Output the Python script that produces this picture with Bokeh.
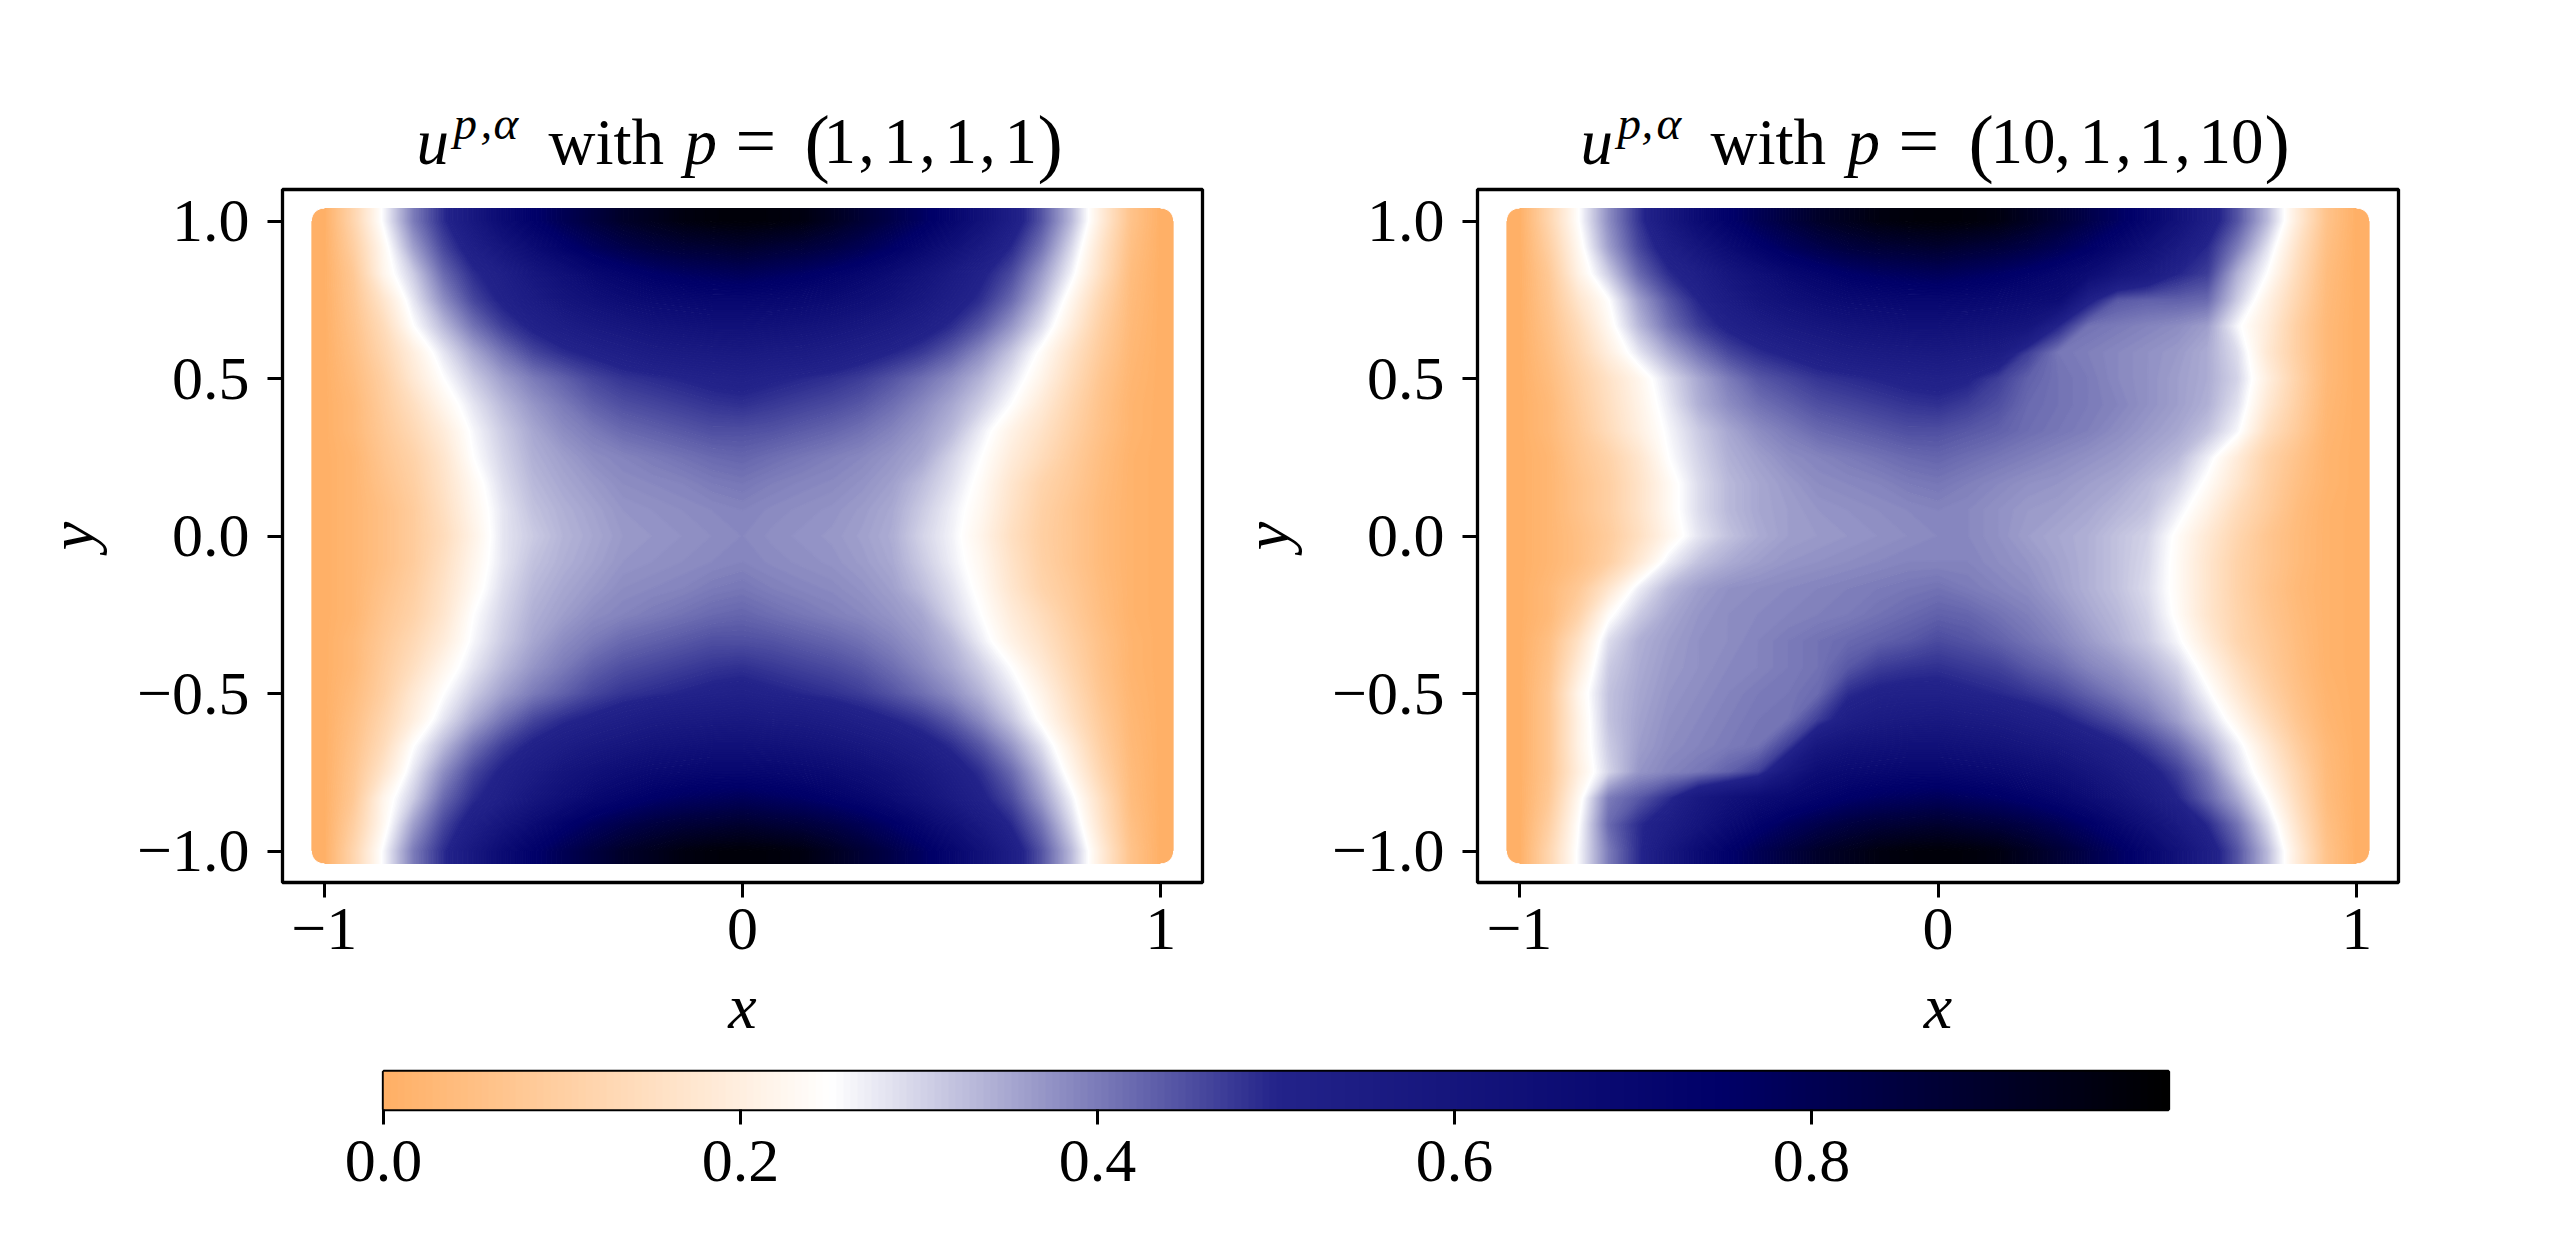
import numpy as np
from bokeh.embed import file_html
from bokeh.resources import INLINE
from bokeh.layouts import column, row
from bokeh.models import FixedTicker, Label, LinearColorMapper, Range1d
from bokeh.plotting import figure

x_ticks = [-1, 0, 1]
x_tick_labels = ["\u22121", "0", "1"]
y_ticks = [-1.0, -0.5, 0.0, 0.5, 1.0]
y_tick_labels = ["\u22121.0", "\u22120.5", "0.0", "0.5", "1.0"]
cbar_ticks = [0.0, 0.2, 0.4, 0.6, 0.8]
cbar_tick_labels = ["0.0", "0.2", "0.4", "0.6", "0.8"]
cmap_stops = [0.0, 0.25, 0.5, 0.75, 1.0]
cmap_colors = [(255, 176, 102), (255, 255, 255), (35, 35, 138), (0, 0, 104), (0, 0, 0)]

# values; rows from y=1 to y=-1, columns from x=-1 to x=1
u_left = [
[0,.12,.26,.40,.49,.58,.67,.74,.80,.85,.90,.93,.96,.975,.98,.975,.96,.92,.875,.825,.77,.705,.625,.535,.445,.33,.19,.06,0],
[0,.10,.23,.36,.46,.53,.60,.67,.73,.78,.82,.85,.87,.88,.89,.875,.86,.835,.80,.755,.70,.635,.565,.495,.41,.295,.165,.05,0],
[0,.08,.22,.31,.42,.49,.53,.59,.64,.69,.72,.75,.77,.78,.79,.775,.76,.735,.705,.665,.615,.56,.51,.455,.365,.265,.15,.04,0],
[0,.07,.17,.28,.38,.46,.51,.55,.60,.63,.66,.68,.69,.70,.70,.695,.685,.67,.645,.615,.575,.53,.485,.42,.33,.225,.12,.035,0],
[0,.06,.14,.25,.33,.41,.47,.51,.54,.57,.59,.61,.62,.63,.63,.625,.615,.60,.58,.555,.525,.49,.44,.37,.29,.195,.10,.03,0],
[0,.05,.12,.20,.28,.35,.41,.46,.49,.51,.53,.55,.56,.565,.57,.56,.555,.54,.52,.50,.475,.435,.38,.315,.24,.16,.085,.025,0],
[0,.04,.10,.18,.25,.31,.36,.40,.43,.46,.48,.49,.50,.51,.515,.505,.495,.485,.47,.445,.415,.38,.335,.28,.215,.14,.07,.02,0],
[0,.03,.09,.15,.22,.28,.33,.37,.40,.43,.45,.46,.47,.48,.485,.475,.465,.455,.44,.415,.385,.35,.305,.25,.185,.12,.06,.015,0],
[0,.03,.08,.13,.19,.26,.31,.35,.38,.40,.42,.43,.44,.45,.45,.445,.435,.425,.41,.39,.365,.33,.27,.21,.16,.105,.055,.015,0],
[0,.02,.07,.11,.17,.25,.30,.34,.36,.38,.39,.40,.41,.42,.425,.415,.405,.395,.385,.37,.35,.30,.25,.19,.14,.09,.045,.01,0],
[0,.02,.06,.10,.16,.23,.29,.33,.35,.365,.38,.385,.39,.40,.405,.395,.388,.383,.373,.358,.325,.285,.235,.17,.115,.08,.04,.01,0],
[0,.02,.05,.09,.15,.22,.28,.32,.34,.355,.37,.375,.38,.385,.39,.383,.378,.373,.363,.348,.31,.27,.225,.16,.105,.07,.035,.01,0],
[0,.02,.05,.09,.14,.21,.28,.31,.335,.35,.365,.37,.375,.38,.385,.378,.373,.368,.358,.343,.30,.265,.215,.15,.10,.07,.035,.01,0],
[0,.02,.05,.09,.15,.22,.28,.32,.34,.355,.37,.375,.38,.385,.39,.383,.378,.373,.363,.348,.31,.27,.225,.16,.105,.07,.035,.01,0],
[0,.02,.06,.10,.16,.23,.29,.33,.35,.365,.38,.385,.39,.40,.405,.395,.388,.383,.373,.358,.325,.285,.235,.17,.115,.08,.04,.01,0],
[0,.02,.07,.11,.17,.25,.30,.34,.36,.38,.39,.40,.41,.42,.425,.415,.405,.395,.385,.37,.35,.30,.25,.19,.14,.09,.045,.01,0],
[0,.03,.08,.13,.19,.26,.31,.35,.38,.40,.42,.43,.44,.45,.45,.445,.435,.425,.41,.39,.365,.33,.27,.21,.16,.105,.055,.015,0],
[0,.03,.09,.15,.22,.28,.33,.37,.40,.43,.45,.46,.47,.48,.485,.475,.465,.455,.44,.415,.385,.35,.305,.25,.185,.12,.06,.015,0],
[0,.04,.10,.18,.25,.31,.36,.40,.43,.46,.48,.49,.50,.51,.515,.505,.495,.485,.47,.445,.415,.38,.335,.28,.215,.14,.07,.02,0],
[0,.05,.12,.20,.28,.35,.41,.46,.49,.51,.53,.55,.56,.565,.57,.56,.555,.54,.52,.50,.475,.435,.38,.315,.24,.16,.085,.025,0],
[0,.06,.14,.25,.33,.41,.47,.51,.54,.57,.59,.61,.62,.63,.63,.625,.615,.60,.58,.555,.525,.49,.44,.37,.29,.195,.10,.03,0],
[0,.07,.17,.28,.38,.46,.51,.55,.60,.63,.66,.68,.69,.70,.70,.695,.685,.67,.645,.615,.575,.53,.485,.42,.33,.225,.12,.035,0],
[0,.08,.22,.31,.42,.49,.53,.59,.64,.69,.72,.75,.77,.78,.79,.775,.76,.735,.705,.665,.615,.56,.51,.455,.365,.265,.15,.04,0],
[0,.10,.23,.36,.46,.53,.60,.67,.73,.78,.82,.85,.87,.88,.89,.875,.86,.835,.80,.755,.70,.635,.565,.495,.41,.295,.165,.05,0],
[0,.12,.26,.40,.49,.58,.67,.74,.80,.85,.90,.93,.96,.975,.98,.975,.96,.92,.875,.825,.77,.705,.625,.535,.445,.33,.19,.06,0],
]
u_right = [
[0,.12,.25,.38,.48,.58,.67,.74,.80,.85,.90,.93,.96,.975,.98,.975,.96,.92,.875,.825,.77,.705,.625,.535,.445,.33,.19,.06,0],
[0,.10,.23,.36,.46,.53,.60,.67,.73,.78,.82,.85,.87,.88,.89,.875,.86,.835,.80,.755,.70,.635,.565,.495,.40,.285,.16,.05,0],
[0,.08,.21,.31,.42,.49,.53,.59,.64,.69,.72,.75,.77,.78,.79,.775,.76,.735,.705,.665,.60,.56,.50,.47,.34,.25,.14,.04,0],
[0,.07,.17,.25,.36,.44,.50,.55,.60,.63,.66,.68,.69,.70,.70,.695,.685,.67,.66,.52,.44,.43,.43,.42,.31,.21,.12,.035,0],
[0,.06,.14,.23,.33,.41,.47,.51,.54,.57,.59,.61,.62,.63,.63,.625,.615,.60,.50,.41,.40,.39,.38,.36,.26,.19,.10,.03,0],
[0,.05,.12,.20,.28,.35,.41,.46,.49,.51,.53,.55,.56,.565,.57,.56,.55,.47,.405,.395,.385,.375,.365,.345,.29,.18,.10,.03,0],
[0,.04,.10,.16,.22,.29,.35,.40,.44,.46,.48,.49,.50,.51,.515,.505,.47,.43,.41,.40,.385,.375,.36,.345,.30,.20,.11,.03,0],
[0,.03,.09,.15,.21,.275,.34,.38,.41,.43,.45,.46,.47,.48,.485,.47,.45,.42,.41,.40,.39,.375,.36,.34,.285,.18,.10,.025,0],
[0,.03,.08,.14,.20,.26,.31,.35,.38,.40,.42,.43,.44,.45,.45,.44,.43,.415,.405,.395,.38,.365,.35,.32,.26,.15,.085,.02,0],
[0,.02,.07,.11,.17,.25,.30,.34,.36,.38,.39,.40,.41,.42,.425,.415,.405,.395,.385,.375,.365,.35,.33,.27,.19,.11,.06,.015,0],
[0,.02,.06,.10,.16,.23,.29,.33,.35,.365,.38,.385,.39,.40,.405,.395,.385,.375,.37,.36,.35,.33,.30,.24,.17,.10,.05,.015,0],
[0,.02,.06,.10,.16,.23,.29,.33,.35,.36,.37,.375,.38,.385,.39,.385,.375,.365,.36,.35,.335,.32,.27,.21,.14,.09,.04,.01,0],
[0,.02,.05,.09,.15,.22,.28,.32,.345,.36,.365,.37,.375,.38,.385,.385,.375,.36,.35,.34,.32,.30,.24,.18,.12,.07,.035,.01,0],
[0,.02,.05,.10,.18,.27,.32,.345,.36,.37,.375,.38,.385,.39,.39,.39,.38,.37,.355,.34,.32,.295,.235,.17,.11,.07,.035,.01,0],
[0,.03,.08,.17,.27,.33,.36,.375,.38,.385,.39,.395,.40,.405,.41,.40,.39,.38,.36,.34,.32,.29,.235,.17,.11,.065,.03,.01,0],
[0,.03,.11,.24,.31,.35,.37,.38,.385,.39,.395,.40,.41,.42,.43,.425,.41,.395,.375,.35,.33,.30,.24,.17,.115,.07,.035,.01,0],
[0,.05,.16,.29,.34,.36,.375,.38,.39,.40,.41,.42,.43,.44,.455,.445,.43,.41,.39,.365,.34,.31,.26,.19,.12,.08,.04,.01,0],
[0,.06,.19,.31,.345,.365,.375,.385,.39,.40,.41,.44,.47,.48,.485,.475,.465,.44,.42,.39,.37,.34,.30,.225,.15,.09,.045,.01,0],
[0,.07,.22,.32,.35,.37,.38,.39,.40,.405,.42,.49,.51,.515,.515,.505,.495,.48,.46,.43,.40,.37,.33,.26,.18,.11,.055,.015,0],
[0,.07,.21,.32,.355,.375,.385,.395,.405,.41,.47,.53,.555,.565,.57,.56,.55,.53,.51,.48,.45,.41,.36,.30,.22,.14,.07,.02,0],
[0,.07,.21,.31,.36,.38,.39,.40,.41,.47,.58,.61,.62,.63,.63,.62,.61,.59,.57,.54,.51,.47,.42,.35,.27,.18,.095,.03,0],
[0,.07,.20,.30,.37,.39,.405,.43,.47,.58,.66,.68,.69,.70,.70,.69,.68,.66,.64,.60,.56,.52,.47,.40,.30,.21,.12,.035,0],
[0,.08,.23,.40,.44,.49,.57,.62,.66,.69,.72,.75,.77,.78,.79,.775,.76,.735,.705,.665,.615,.56,.50,.43,.35,.25,.14,.04,0],
[0,.10,.25,.42,.49,.54,.60,.67,.73,.78,.82,.85,.87,.88,.89,.875,.86,.835,.80,.755,.70,.635,.565,.495,.41,.295,.165,.05,0],
[0,.12,.26,.40,.49,.58,.67,.74,.80,.85,.90,.93,.96,.975,.98,.975,.96,.92,.875,.825,.77,.705,.625,.535,.445,.33,.19,.06,0],
]

FONT = "Liberation Serif"
TICK_PX = "62px"
XR, YR, XE, YE = 1.1, 1.1, 1.031, 1.041
FW1, FW2, FH = 920, 921, 693
MAIN, SUP, EQ, PAREN = 65, 47, 72, 76
BASE, SUPBASE, EQBASE, PARENBASE = 141, 122, 140, 141


def cmap(t):
    return "#%02x%02x%02x" % tuple(int(round(np.interp(t, cmap_stops, [c[i] for c in cmap_colors]))) for i in range(3))


pos = np.linspace(0, 1, 256)
palette = [cmap(t) for t in pos]
mapper = LinearColorMapper(palette=palette, low=0, high=1)
levels = np.linspace(-0.001, 1.001, 201)
fills = [cmap((a + b) / 2) for a, b in zip(levels[:-1], levels[1:])]
edges = [cmap(t) for t in levels]


def style_axis(ax, ticks, labels):
    ax.ticker = FixedTicker(ticks=ticks)
    ax.major_label_overrides = {t: s for t, s in zip(ticks, labels)}
    ax.major_label_text_font = FONT
    ax.major_label_text_font_size = TICK_PX
    ax.major_label_text_color = "black"
    ax.major_tick_line_color = "black"
    ax.major_tick_line_width = 3
    ax.major_tick_out = 15
    ax.major_tick_in = 0
    ax.minor_tick_line_color = None
    ax.axis_line_color = None


def corner_masks(rx, ry):
    t = np.linspace(0, np.pi / 2, 16)
    xs, ys = [], []
    for sx in (-1, 1):
        for sy in (-1, 1):
            ax_ = sx * (XE - rx + rx * np.cos(t))
            ay_ = sy * (YE - ry + ry * np.sin(t))
            xs.append(list(ax_) + [sx * (XE + 0.004)])
            ys.append(list(ay_) + [sy * (YE + 0.004)])
    return xs, ys


def panel(field, fw, left, right):
    p = figure(frame_width=fw, frame_height=FH, x_range=Range1d(-XR, XR), y_range=Range1d(-YR, YR),
               output_backend="svg", toolbar_location=None,
               min_border_left=left, min_border_right=right, min_border_top=4, min_border_bottom=168)
    p.grid.visible = False
    p.background_fill_color = "white"
    p.border_fill_color = "white"
    p.outline_line_color = "black"
    p.outline_line_width = 3.3
    p.outline_line_alpha = 1
    z = np.pad(np.flipud(np.array(field, dtype=float)), 1, mode="edge")
    xs = np.r_[-XE, np.linspace(-1, 1, z.shape[1] - 2), XE]
    ys = np.r_[-YE, np.linspace(-1, 1, z.shape[0] - 2), YE]
    p.contour(xs, ys, z, levels, fill_color=fills, line_color=edges, line_width=1.5)
    mx, my = corner_masks(13 / 418.2, 13 / 315.0)
    p.patches(mx, my, fill_color="white", line_color="white", line_width=1)
    style_axis(p.xaxis[0], x_ticks, x_tick_labels)
    style_axis(p.yaxis[0], y_ticks, y_tick_labels)
    p.xaxis[0].major_label_standoff = 11
    p.yaxis[0].major_label_standoff = 18
    p.xaxis.axis_label = "x"
    p.yaxis.axis_label = "y"
    for ax in (p.xaxis[0], p.yaxis[0]):
        ax.axis_label_text_font = FONT
        ax.axis_label_text_font_style = "italic"
        ax.axis_label_text_font_size = "64px"
        ax.axis_label_text_color = "black"
    p.xaxis[0].axis_label_standoff = 19
    p.yaxis[0].axis_label_standoff = 27
    return p


title_left = [
    ("u", 416, BASE, MAIN, "italic"), ("p", 453, SUPBASE, SUP, "italic"), (",", 480, SUPBASE, SUP, "italic"),
    ("\u03b1", 493, SUPBASE, SUP, "italic"), ("with", 548, BASE, MAIN, "normal"), ("p", 684, BASE, MAIN, "italic"),
    ("=", 735, EQBASE, EQ, "normal"), ("(", 804, PARENBASE, PAREN, "normal"),
    ("1", 823, BASE, MAIN, "normal"), (",", 858, BASE, MAIN, "normal"),
    ("1", 883, BASE, MAIN, "normal"), (",", 919, BASE, MAIN, "normal"),
    ("1", 944, BASE, MAIN, "normal"), (",", 979, BASE, MAIN, "normal"),
    ("1", 1004, BASE, MAIN, "normal"), (")", 1037, PARENBASE, PAREN, "normal"),
]
title_right = [
    ("u", 1580, BASE, MAIN, "italic"), ("p", 1617, SUPBASE, SUP, "italic"), (",", 1641, SUPBASE, SUP, "italic"),
    ("\u03b1", 1656, SUPBASE, SUP, "italic"), ("with", 1710, BASE, MAIN, "normal"), ("p", 1847, BASE, MAIN, "italic"),
    ("=", 1898, EQBASE, EQ, "normal"), ("(", 1968, PARENBASE, PAREN, "normal"),
    ("10", 1990, BASE, MAIN, "normal"), (",", 2054, BASE, MAIN, "normal"),
    ("1", 2079, BASE, MAIN, "normal"), (",", 2115, BASE, MAIN, "normal"),
    ("1", 2138, BASE, MAIN, "normal"), (",", 2174, BASE, MAIN, "normal"),
    ("10", 2198, BASE, MAIN, "normal"), (")", 2264, PARENBASE, PAREN, "normal"),
]

strip = figure(frame_width=2534, frame_height=185, x_range=Range1d(0, 2534), y_range=Range1d(185, 0),
               x_axis_type=None, y_axis_type=None, output_backend="svg", toolbar_location=None,
               min_border=0)
strip.grid.visible = False
strip.outline_line_color = None
for text, sx, sy, size, style in title_left + title_right:
    strip.add_layout(Label(x=sx, y=sy, text=text, text_font=FONT, text_font_size=f"{size}px",
                           text_font_style=style, text_color="black", text_baseline="alphabetic", text_align="left"))

p1 = panel(u_left, FW1, 282, 20)
p2 = panel(u_right, FW2, 255, 136)

p3 = figure(frame_width=1785, frame_height=38, x_range=Range1d(0, 1), y_range=Range1d(0, 1),
            output_backend="svg", toolbar_location=None,
            min_border_left=383, min_border_right=366, min_border_top=21, min_border_bottom=135)
p3.grid.visible = False
p3.yaxis.visible = False
p3.outline_line_color = "black"
p3.outline_line_width = 3.3
p3.outline_line_alpha = 1
p3.image(image=[pos.reshape(1, -1)], x=0, y=0, dw=1, dh=1, color_mapper=mapper)
style_axis(p3.xaxis[0], cbar_ticks, cbar_tick_labels)
p3.xaxis[0].major_label_standoff = 16

layout = column(row(strip), row(p1, p2), p3)
open("out.html", "w").write(file_html(layout, INLINE))
